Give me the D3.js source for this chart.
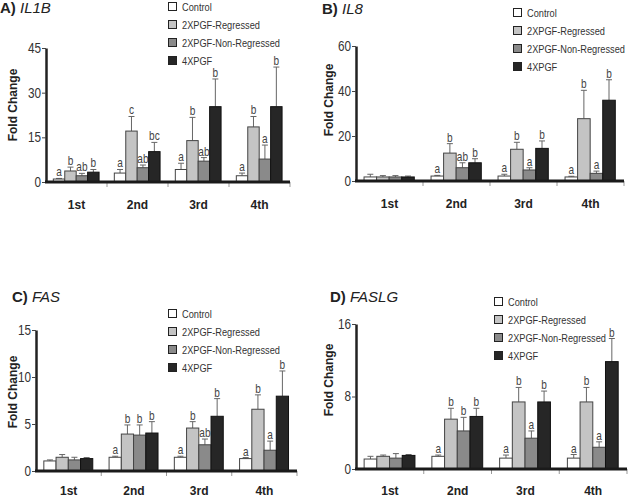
<!DOCTYPE html>
<html><head><meta charset="utf-8">
<script src="https://cdn.jsdelivr.net/npm/d3@7"></script>
<style>body{margin:0;background:#fff}svg{display:block}</style>
</head><body>
<svg id="c" width="628" height="499"></svg>
<script>
const categories = ["1st","2nd","3rd","4th"];
const seriesNames = ["Control","2XPGF-Regressed","2XPGF-Non-Regressed","4XPGF"];
const seriesColors = ["#ffffff","#c4c4c4","#8a8a8a","#262626"];

// IL1B (series x category)
const il1bMeans = [[1.0,3.0,4.2,2.1],[3.7,17.1,13.9,18.5],[2.1,4.8,7.0,7.7],[3.3,10.2,25.3,25.3]];
const il1bErr   = [[0.2,1.2,2.1,0.9],[1.3,4.9,7.8,3.5],[0.8,0.9,1.2,4.7],[0.9,3.1,9.3,13.3]];
const il1bLetters = [["a","a","a","a"],["b","c","b","b"],["ab","ab","ab","a"],["b","bc","b","b"]];
const il1bTicks = [0,15,30,45];

// IL8
const il8Means = [[1.8,2.2,2.2,1.8],[1.8,12.4,14.1,27.7],[1.8,5.9,4.9,3.4],[1.8,8.1,14.5,35.9]];
const il8Err   = [[1.2,0.3,0.8,0.3],[0.6,4.2,3.1,12.6],[0.6,2.2,1.0,1.0],[0.4,1.8,3.3,9.1]];
const il8Letters = [["","a","a","a"],["","b","b","b"],["","ab","a","a"],["","b","b","b"]];
const il8Ticks = [0,20,40,60];

// FAS
const fasMeans = [[1.07,1.46,1.46,1.32],[1.46,3.93,4.57,6.57],[1.18,3.82,2.79,2.21],[1.32,4.04,5.82,7.96]];
const fasErr   = [[0.11,0.11,0.11,0.11],[0.29,0.97,0.68,1.53],[0.28,1.08,0.61,0.97],[0.11,1.21,1.88,2.68]];
const fasLetters = [["","a","a","a"],["","b","b","b"],["","b","ab","a"],["","b","b","b"]];
const fasTicks = [0,5,10,15];

// FASLG
const faslgMeans = [[1.1,1.4,1.2,1.2],[1.4,5.5,7.4,7.4],[1.2,4.2,3.4,2.4],[1.5,5.8,7.4,11.85]];
const faslgErr   = [[0.3,0.14,0.34,0.4],[0.14,1.2,1.6,1.6],[0.5,1.5,0.8,0.6],[0.1,0.9,1.2,2.55]];
const faslgLetters = [["","a","a","a"],["","b","b","b"],["","b","a","a"],["","b","b","b"]];
const faslgTicks = [0,8,16];

const panels = [
  {letter:"A)", gene:"IL1B", means:il1bMeans, err:il1bErr, letters:il1bLetters, ticks:il1bTicks,
   x0:46, x1:290, yTop:48, yBot:182, tx:0, ty:13, catY:209, ylx:13, yly:105, lgx:168, lgy:7},
  {letter:"B)", gene:"IL8", means:il8Means, err:il8Err, letters:il8Letters, ticks:il8Ticks,
   x0:356, x1:624, yTop:46, yBot:181, tx:322, ty:14, catY:208, ylx:329, yly:100, lgx:513, lgy:13},
  {letter:"C)", gene:"FAS", means:fasMeans, err:fasErr, letters:fasLetters, ticks:fasTicks,
   x0:36, x1:297, yTop:330, yBot:471, tx:12, ty:302, catY:495, ylx:13, yly:392, lgx:168, lgy:314},
  {letter:"D)", gene:"FASLG", means:faslgMeans, err:faslgErr, letters:faslgLetters, ticks:faslgTicks,
   x0:356, x1:627, yTop:324, yBot:469, tx:330, ty:302, catY:495, ylx:329, yly:380, lgx:494, lgy:302}
];

const svg = d3.select("#c");
const FONT = "Liberation Sans, Arial, sans-serif";
const SX = 0.84; // horizontal squeeze to mimic a narrow face

panels.forEach(p => {
  const g = svg.append("g");
  const x = d3.scaleBand().domain(categories).range([p.x0, p.x1]).padding(0);
  const bw = x.bandwidth();
  const xs = d3.scaleBand().domain(d3.range(seriesNames.length)).range([bw*0.12, bw*0.87]).padding(0);
  const ymax = p.ticks[p.ticks.length-1];
  const y = d3.scaleLinear().domain([0, ymax]).range([p.yBot, p.yTop]);

  // title
  const t = g.append("text").attr("x", p.tx).attr("y", p.ty)
    .attr("font-family", FONT).attr("font-size", 15).attr("fill", "#222");
  t.append("tspan").attr("font-weight","bold").text(p.letter + " ");
  t.append("tspan").attr("font-style","italic").text(p.gene);

  // y axis label
  g.append("text").attr("transform", `translate(${p.ylx + 4},${p.yly}) rotate(-90)`)
    .attr("text-anchor","middle").attr("font-family", FONT).attr("font-size", 12)
    .attr("font-weight","bold").attr("fill","#222").text("Fold Change");

  // y axis
  const yAxis = d3.axisLeft(y).tickValues(p.ticks).tickSize(4).tickPadding(1).tickSizeOuter(0);
  const ya = g.append("g").attr("transform", `translate(${p.x0},0)`).call(yAxis);
  ya.select(".domain").attr("stroke","#222").attr("stroke-width",2.5);
  ya.selectAll(".tick line").attr("stroke","#444");
  ya.selectAll(".tick text").attr("font-family", FONT).attr("font-size", 14).attr("fill","#333")
    .attr("x", -5 / SX).attr("transform", `scale(${SX},1)`);

  // x axis category ticks
  const xAxis = d3.axisBottom(x).tickSize(0).tickPadding(0);
  const xa = g.append("g").attr("transform", `translate(0,${p.yBot})`).call(xAxis);
  xa.select(".domain").remove();
  xa.selectAll(".tick text").attr("y", p.catY - p.yBot).attr("dy", 0)
    .attr("font-family", FONT).attr("font-size", 12).attr("font-weight","bold").attr("fill","#222");
  g.selectAll(".bnd").data(categories.slice(1).concat(["end"])).enter().append("line")
    .attr("x1", (d,i) => p.x0 + bw*(i+1)).attr("x2", (d,i) => p.x0 + bw*(i+1))
    .attr("y1", p.yBot).attr("y2", p.yBot + 5).attr("stroke","#999").attr("stroke-width",1);

  // bars
  seriesNames.forEach((s, si) => {
    categories.forEach((c, ci) => {
      const v = p.means[si][ci], e = p.err[si][ci];
      const bx = x(c) + xs(si), w = xs.bandwidth();
      const cx = bx + w/2;
      const top = y(v + e);
      g.append("line").attr("x1", cx).attr("x2", cx).attr("y1", y(v)).attr("y2", top)
        .attr("stroke","#666").attr("stroke-width",1);
      g.append("line").attr("x1", cx - 3).attr("x2", cx + 3).attr("y1", top).attr("y2", top)
        .attr("stroke","#666").attr("stroke-width",1);
      g.append("rect").attr("x", bx).attr("y", y(v)).attr("width", w).attr("height", p.yBot - y(v))
        .attr("fill", seriesColors[si]).attr("stroke", si === 3 ? "#111" : "#444").attr("stroke-width", 1);
      const L = p.letters[si][ci];
      if (L) g.append("text").attr("transform", `translate(${cx},${top - 2}) scale(${SX},1)`)
        .attr("text-anchor","middle")
        .attr("font-family", FONT).attr("font-size", 12).attr("fill","#444").text(L);
    });
  });

  // x axis line (thick)
  g.append("line").attr("x1", p.x0 - 1).attr("x2", p.x1).attr("y1", p.yBot).attr("y2", p.yBot)
    .attr("stroke","#1a1a1a").attr("stroke-width",3);

  // legend
  seriesNames.forEach((s, si) => {
    const ly = p.lgy + si*18;
    g.append("rect").attr("x", p.lgx + 0.5).attr("y", ly - 4.5).attr("width", 8).attr("height", 8)
      .attr("fill", seriesColors[si]).attr("stroke","#222").attr("stroke-width",1);
    g.append("text").attr("transform", `translate(${p.lgx + 14},${ly + 3.5}) scale(${SX},1)`)
      .attr("font-family", FONT).attr("font-size", 11).attr("fill","#333").text(s);
  });
});
</script>
</body></html>
